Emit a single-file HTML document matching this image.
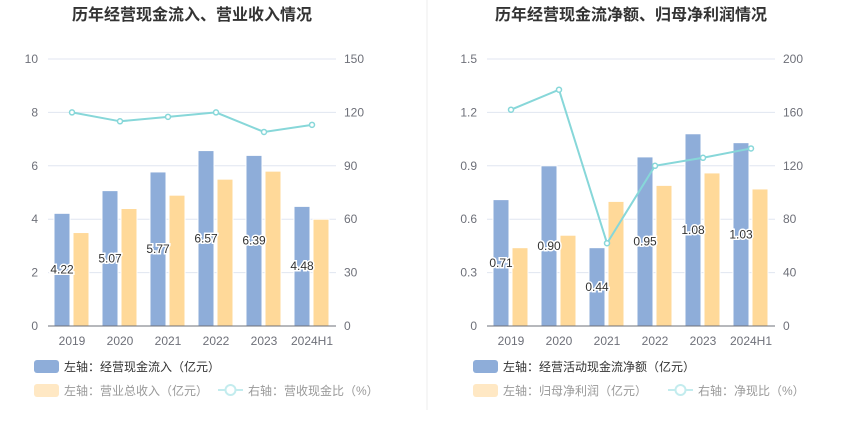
<!DOCTYPE html>
<html><head><meta charset="utf-8"><style>
body{margin:0;background:#fff;font-family:"Liberation Sans","Noto Sans CJK SC",sans-serif}
svg text{font-family:"Liberation Sans","Noto Sans CJK SC",sans-serif}
</style></head><body>
<svg id="s" width="850" height="437">
<line x1="427" y1="0" x2="427" y2="410" stroke="#eee"/>
</svg>
<script>
const cats=["2019","2020","2021","2022","2023","2024H1"];
const leftBlue=[4.22,5.07,5.77,6.57,6.39,4.48];
const leftOrange=[3.5,4.4,4.9,5.5,5.8,4.0];
const leftLine=[120,115,117.5,120,109,113];
const leftTicksL=[0,2,4,6,8,10];
const leftTicksR=[0,30,60,90,120,150];
const rightBlue=[0.71,0.90,0.44,0.95,1.08,1.03];
const rightOrange=[0.44,0.51,0.70,0.79,0.86,0.77];
const rightLine=[162,177,62,120,126,133];
const rightTicksL=[0,0.3,0.6,0.9,1.2,1.5];
const rightTicksR=[0,40,80,120,160,200];
const NS="http://www.w3.org/2000/svg";
const svg=document.getElementById('s');
function mk(t,a,txt){const e=document.createElementNS(NS,t);for(const k in a)e.setAttribute(k,a[k]);if(txt!==undefined)e.textContent=txt;svg.appendChild(e);return e;}
function chart(p){
 const x0=p.x0,w=288,y0=326,h=267,cw=w/cats.length;
 const yl=v=>y0-v/p.maxL*h, yr=v=>y0-v/p.maxR*h;
 let t=mk('text',{x:x0+w/2,y:20,'text-anchor':'middle','font-size':16,'font-weight':'bold',fill:'#333'},p.title);
 
 
 p.tl.forEach((v,i)=>{
  if(i){let g=mk('line',{x1:x0,x2:x0+w,y1:yl(v),y2:yl(v),stroke:'#e0e6f1'});
  
  }
  let a=mk('text',{x:x0-10,y:yl(v)+4,'text-anchor':'end','font-size':12,fill:'#6e7079'},String(v));
  
  
  let b=mk('text',{x:x0+w+8,y:yl(v)+4,'font-size':12,fill:'#6e7079'},String(p.tr[i]));
  
  
 });
 cats.forEach((c,i)=>{
  const cx=x0+cw*i;
  let l=mk('text',{x:cx+cw/2,y:345,'text-anchor':'middle','font-size':12,fill:'#6e7079'},c);
  
  
  let b=mk('rect',{x:cx+6,y:yl(p.blue[i]),width:16,height:y0-yl(p.blue[i]),fill:'#8eadd9',stroke:'#fff','stroke-width':1});
  
  
  let o=mk('rect',{x:cx+25,y:yl(p.orange[i]),width:16,height:y0-yl(p.orange[i]),fill:'#ffd999',stroke:'#fff','stroke-width':1});
  
  
 });
 let ax=mk('line',{x1:x0,x2:x0+w,y1:y0,y2:y0,stroke:'#6e7079'});
 
 
 cats.forEach((c,i)=>{
  const cx=x0+cw*i+14, my=(y0+yl(p.blue[i]))/2+4;
  let v=mk('text',{x:cx,y:my,'text-anchor':'middle','font-size':12,fill:'#333',stroke:'#fff','stroke-width':3,'paint-order':'stroke'},p.blue[i].toFixed(2));
  
  
 });
 const pts=p.line.map((v,i)=>[x0+cw*i+cw/2,yr(v)]);
 let pl=mk('polyline',{points:pts.map(q=>q.join(',')).join(' '),fill:'none',stroke:'#87d7d9','stroke-width':2});
 
 
 pts.forEach(q=>{let c=mk('circle',{cx:q[0],cy:q[1],r:2.5,fill:'#fff',stroke:'#87d7d9','stroke-width':1.5});
  
  });
 const lx=x0-14;
 let r1=mk('rect',{x:lx,y:360,width:25,height:13,rx:3,fill:'#8eadd9'});
 
 
 let t1=mk('text',{x:lx+30,y:371,'font-size':12,fill:'#333'},p.lg[0]);
 
 
 let r2=mk('rect',{x:lx,y:384,width:25,height:13,rx:3,fill:'#ffe8c4'});
 
 
 let t2=mk('text',{x:lx+30,y:395,'font-size':12,fill:'#999'},p.lg[1]);
 
 
 const ly=p.lgx;
 let ll=mk('line',{x1:ly,x2:ly+25,y1:390,y2:390,stroke:'#c3ecee','stroke-width':2});
 
 
 let lc=mk('circle',{cx:ly+12.5,cy:390,r:5,fill:'#fff',stroke:'#c3ecee','stroke-width':2});
 
 
 let t3=mk('text',{x:ly+30,y:395,'font-size':12,fill:'#999'},p.lg[2]);
 
 
}
chart({x0:48,title:"历年经营现金流入、营业收入情况",maxL:10,maxR:150,tl:leftTicksL,tr:leftTicksR,blue:leftBlue,orange:leftOrange,line:leftLine,lgx:218,lg:["左轴：经营现金流入（亿元）","左轴：营业总收入（亿元）","右轴：营收现金比（%）"]});
chart({x0:487,title:"历年经营现金流净额、归母净利润情况",maxL:1.5,maxR:200,tl:rightTicksL,tr:rightTicksR,blue:rightBlue,orange:rightOrange,line:rightLine,lgx:668,lg:["左轴：经营活动现金流净额（亿元）","左轴：归母净利润（亿元）","右轴：净现比（%）"]});
</script>
</body></html>
